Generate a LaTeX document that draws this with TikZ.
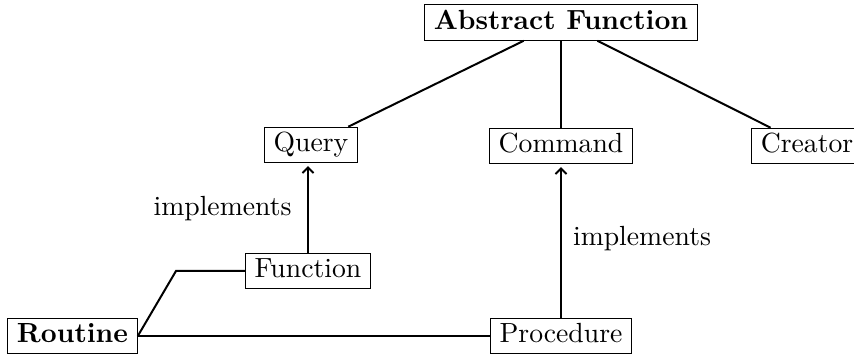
\documentclass[tikz,border=0pt]{standalone}
\usetikzlibrary{arrows.meta}
\begin{document}
\begin{tikzpicture}[x=0.361pt,y=-0.361pt,
  box/.style={draw,line width=0.4pt,inner xsep=3.33pt,inner ysep=1.9pt,text height=7pt,text depth=2pt},
  link/.style={line width=0.72pt},
  impl/.style={line width=0.72pt,-{Straight Barb[length=2pt,width=4pt]},shorten >=1pt},
  lbl/.style={inner sep=0pt}]
\useasboundingbox (0,0) rectangle (854,354);
% class hierarchy
\node[box,font=\bfseries] (abs) at (561,22.5) {Abstract Function};
\node[box] (query) at (311,145) {Query};
\node[box] (command) at (561,146) {Command};
\node[box] (creator) at (807,146) {Creator};
\node[box] (function) at (308,271) {Function};
\node[box,font=\bfseries] (routine) at (72.5,336) {Routine};
\node[box] (procedure) at (561,336) {Procedure};
\coordinate (bend) at (176,271);
% edges of the tree
\draw[link] (abs) -- (query);
\draw[link] (abs) -- (command);
\draw[link] (abs) -- (creator);
\draw[link] (routine.east) -- (bend) -- (function.west);
\draw[link] (routine.east) -- (procedure.west);
% realisation arrows
\draw[impl] (function.north) -- (function.north |- query.south);
\draw[impl] (procedure.north) -- (procedure.north |- command.south);
\node[lbl,anchor=base east] (l1) at (292,216) {implements};
\node[lbl,anchor=base west] (l2) at (572.5,246) {implements};
\end{tikzpicture}
\end{document}
